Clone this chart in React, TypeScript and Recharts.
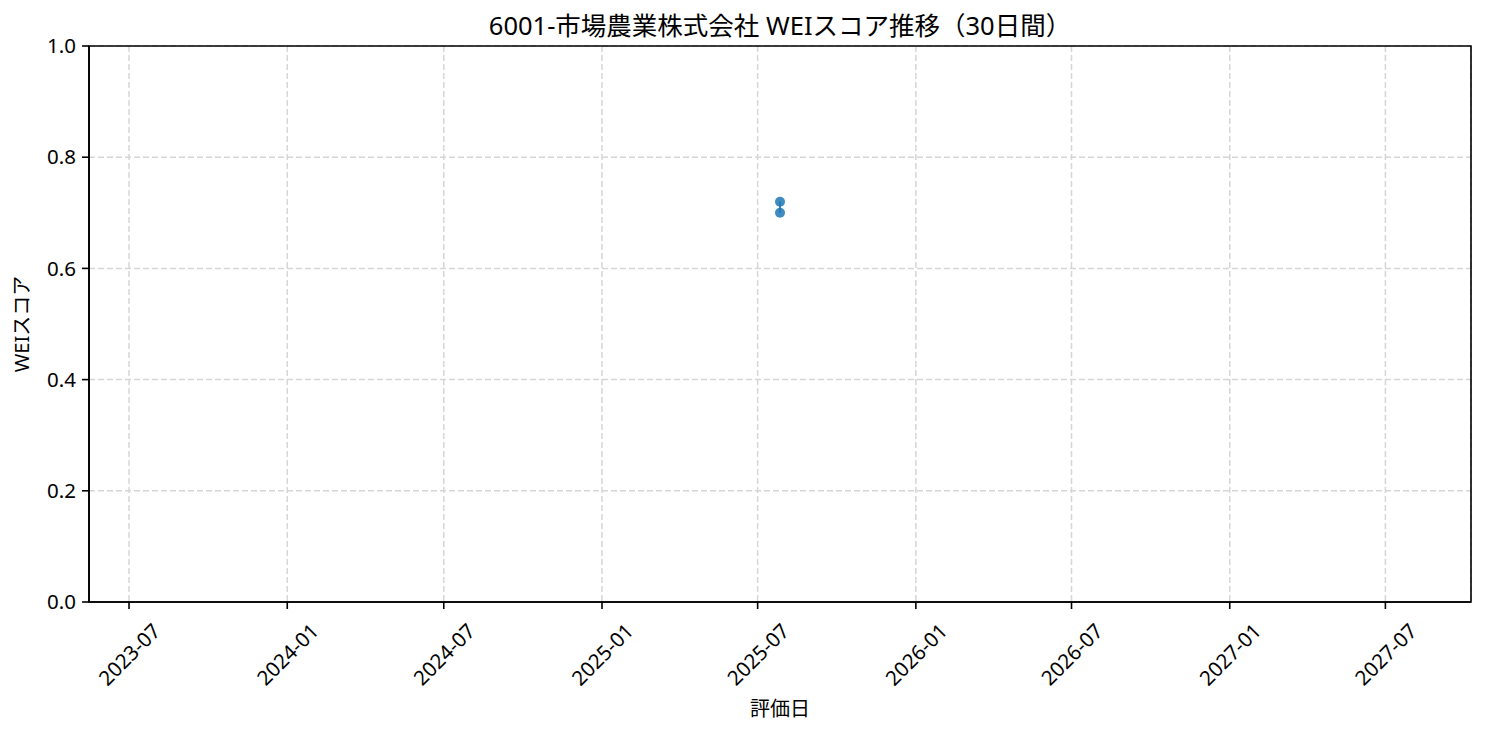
import React from 'react';
import { LineChart, Line, XAxis, YAxis, CartesianGrid, ReferenceArea } from 'recharts';

const evalDates = ['2025-07-27', '2025-07-27'];
const weiScores = [0.72, 0.7];
const xTickLabels = ['2023-07', '2024-01', '2024-07', '2025-01', '2025-07', '2026-01', '2026-07', '2027-01', '2027-07'];
const yTicks = [0, 0.2, 0.4, 0.6, 0.8, 1.0];
const title = '6001-市場農業株式会社 WEIスコア推移（30日間）';
const xLabel = '評価日';
const yLabel = 'WEIスコア';

const DAY = 86400000;
const toTs = (s: string) => {
  const [y, m, d] = s.split('-').map(Number);
  return Date.UTC(y, m - 1, d || 1);
};
const data = evalDates.map((d, i) => ({ t: toTs(d), v: weiScores[i] }));
const center = toTs(evalDates[0]);
const half = 730.5 * 1.1 * DAY;
const xMin = center - half;
const xMax = center + half;
const xTicks = xTickLabels.map(toTs);

const FONT = '"Noto Sans", "Noto Sans CJK JP", sans-serif';

const fmtMonth = (t: number) => {
  const d = new Date(t);
  return `${d.getUTCFullYear()}-${String(d.getUTCMonth() + 1).padStart(2, '0')}`;
};

const XTick = (props: any) => {
  const { x, y, payload } = props;
  const cy = y + 43;
  return (
    <text
      x={x}
      y={cy}
      transform={`rotate(-45 ${x} ${cy})`}
      textAnchor="middle"
      dominantBaseline="central"
      fontSize={20.5}
      fontFamily={FONT}
      fill="#000"
    >
      {fmtMonth(payload.value)}
    </text>
  );
};

export default function App() {
  return (
    <div style={{ position: 'absolute', left: 0, top: 0, width: 1485, height: 735, background: '#fff' }}>
      <LineChart
        width={1485}
        height={735}
        data={data}
        margin={{ top: 46, right: 14, left: 0, bottom: 0 }}
      >
        <CartesianGrid stroke="#d6d6d6" strokeDasharray="6 3" strokeWidth={1.5} />
        <XAxis
          dataKey="t"
          type="number"
          domain={[xMin, xMax]}
          ticks={xTicks}
          allowDataOverflow
          height={133}
          tick={<XTick />}
          tickLine={{ stroke: '#000', strokeWidth: 1.6 }}
          axisLine={{ stroke: '#000', strokeWidth: 1.6 }}
          tickSize={7}
          interval={0}
        />
        <YAxis
          type="number"
          domain={[0, 1]}
          ticks={yTicks}
          width={89}
          tickFormatter={(v: number) => v.toFixed(1)}
          tick={{ fontSize: 20.5, fontFamily: FONT, fill: '#000' }}
          tickLine={{ stroke: '#000', strokeWidth: 1.6 }}
          axisLine={{ stroke: '#000', strokeWidth: 1.6 }}
          tickSize={7}
          tickMargin={6}
          interval={0}
        />
        <ReferenceArea x1={xMin} x2={xMax} y1={0} y2={1} fill="none" stroke="#000" strokeWidth={1.6} ifOverflow="visible" />
        <Line
          dataKey="v"
          stroke="#1f77b4"
          strokeOpacity={0.85}
          strokeWidth={2}
          dot={{ r: 5, fill: '#1f77b4', fillOpacity: 0.85, stroke: 'none' }}
          isAnimationActive={false}
        />
      </LineChart>
      <div style={{ position: 'absolute', left: 0, width: 1560, top: 9, lineHeight: '32px', textAlign: 'center', fontSize: 25.5, fontFamily: FONT, color: '#000', whiteSpace: 'nowrap' }}>
        {title}
      </div>
      <div style={{ position: 'absolute', left: 680, width: 200, top: 695, lineHeight: '28px', textAlign: 'center', fontSize: 20, fontFamily: FONT, color: '#000' }}>
        {xLabel}
      </div>
      <div style={{ position: 'absolute', left: 22 - 100, width: 200, top: 324 - 14, lineHeight: '28px', textAlign: 'center', fontSize: 20, fontFamily: FONT, color: '#000', transform: 'rotate(-90deg)' }}>
        {yLabel}
      </div>
    </div>
  );
}
